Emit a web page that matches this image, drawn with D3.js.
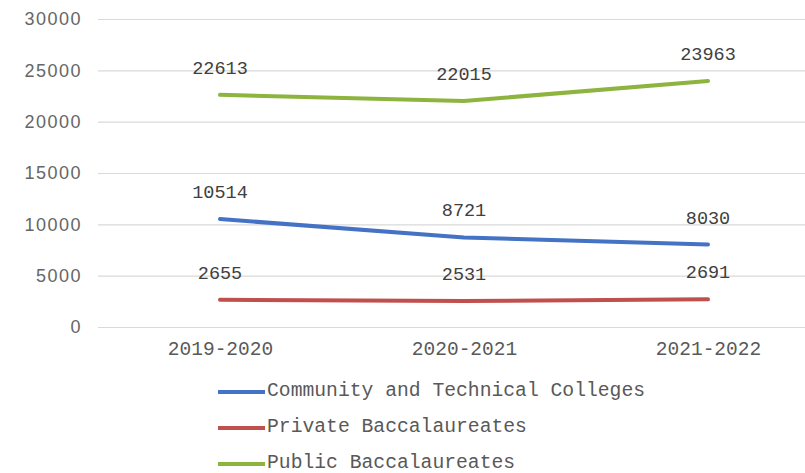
<!DOCTYPE html>
<html><head><meta charset="utf-8">
<script src="https://cdn.jsdelivr.net/npm/d3@7"></script>
<style>body{margin:0;background:#fff}svg{display:block}</style>
</head><body>
<svg id="c" width="805" height="473"></svg>
<script>
const categories = ["2019-2020", "2020-2021", "2021-2022"];
const seriesNames = ["Community and Technical Colleges", "Private Baccalaureates", "Public Baccalaureates"];
const community = [10514, 8721, 8030];
const privateBacc = [2655, 2531, 2691];
const publicBacc = [22613, 22015, 23963];
const yTicks = [0, 5000, 10000, 15000, 20000, 25000, 30000];
const colors = ["#4472C4", "#C0504D", "#8CB43F"];

const series = [community, privateBacc, publicBacc];
const svg = d3.select("#c");
const x = d3.scalePoint().domain(categories).range([220, 708]);
const y = d3.scaleLinear().domain([0, 30000]).range([327, 19]);

const yAxis = d3.axisLeft(y).tickValues(yTicks).tickSize(-707).tickPadding(16).tickFormat(d => d);
const ga = svg.append("g").attr("transform", "translate(98,0)").call(yAxis);
ga.select(".domain").remove();
ga.selectAll(".tick line").attr("stroke", "#d9d9d9").attr("stroke-width", 1.2);
ga.selectAll(".tick text").attr("fill", "#666666")
  .style("font-family", "'Liberation Sans', Arial, sans-serif").style("font-size", "18px")
  .style("letter-spacing", "1.5px");

const xa = d3.axisBottom(x).tickSize(0).tickPadding(0);
const gx = svg.append("g").attr("transform", "translate(0,341)").call(xa);
gx.select(".domain").remove();
gx.selectAll(".tick text").attr("fill", "#595959").attr("dy", "0.71em")
  .style("font-family", "'Liberation Mono', 'Courier New', monospace").style("font-size", "19.5px");

const line = d3.line().x((d, i) => x(categories[i])).y(d => y(d));
series.forEach((s, k) => {
  svg.append("path").datum(s).attr("d", line).attr("fill", "none")
    .attr("stroke", colors[k]).attr("stroke-width", 4).attr("stroke-linecap", "round");
  svg.append("g").selectAll("text").data(s).join("text")
    .attr("x", (d, i) => x(categories[i]))
    .attr("y", d => y(d) - 21)
    .attr("text-anchor", "middle").attr("fill", "#404040")
    .style("font-family", "'Liberation Mono', 'Courier New', monospace").style("font-size", "18.5px")
    .text(d => d);
});

const leg = svg.append("g").selectAll("g").data(seriesNames).join("g")
  .attr("transform", (d, i) => `translate(218,${392 + i * 36})`);
leg.append("line").attr("x1", 0).attr("x2", 47).attr("y1", 0).attr("y2", 0)
  .attr("stroke", (d, i) => colors[i]).attr("stroke-width", 4);
leg.append("text").attr("x", 49).attr("y", 4).attr("fill", "#595959")
  .style("font-family", "'Liberation Mono', 'Courier New', monospace").style("font-size", "19.7px")
  .text(d => d);
</script>
</body></html>
